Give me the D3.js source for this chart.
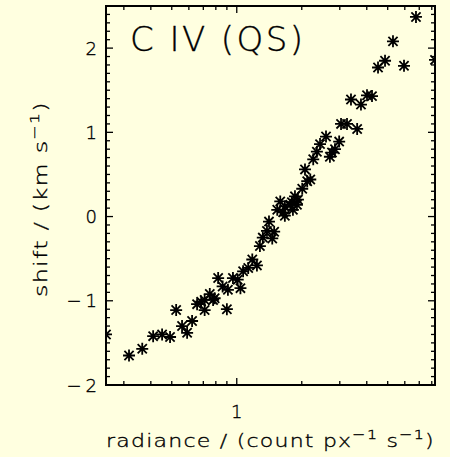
<!DOCTYPE html>
<html>
<head>
<meta charset="utf-8">
<script src="https://cdn.jsdelivr.net/npm/d3@7"></script>
<style>
  html, body { margin: 0; padding: 0; background: #ffffe0; }
  svg { display: block; }
  text { font-family: "DejaVu Sans", sans-serif; font-weight: 200; fill: #000; stroke: #000; stroke-width: 0.35; }
</style>
</head>
<body>
<svg id="chart" width="450" height="457"></svg>
<script>
// radiance (count px^-1 s^-1)
const radiance = [6.76, 5.29, 4.86, 4.51, 5.95, 8.28, 3.38, 3.76, 4.01, 4.23,
  3.04, 3.24, 3.61, 2.59, 2.98, 2.43, 2.35, 2.76, 2.85, 2.70,
  2.26, 2.07, 2.19, 2.12, 2.01, 1.86, 1.80, 1.92, 1.90, 1.59,
  1.67, 1.54, 1.64, 1.67, 1.82, 1.77, 1.41, 1.38, 1.49, 1.32,
  1.28, 1.46, 1.18, 1.24, 1.13, 1.07, 1.01, 0.96, 0.82, 0.86,
  0.91, 1.04, 0.75, 0.79, 0.71, 0.655, 0.90, 0.684, 0.777, 0.71,
  0.621, 0.524, 0.558, 0.589, 0.491, 0.451, 0.41, 0.365, 0.317, 0.248];
// Doppler shift (km s^-1)
const shift = [2.37, 2.08, 1.85, 1.77, 1.79, 1.86, 1.39, 1.33, 1.44, 1.43,
  1.10, 1.10, 1.04, 0.95, 0.89, 0.86, 0.77, 0.76, 0.80, 0.71,
  0.68, 0.56, 0.44, 0.42, 0.33, 0.24, 0.17, 0.20, 0.14, 0.18,
  0.12, 0.08, 0.05, 0.01, 0.08, 0.14, -0.06, -0.17, -0.18, -0.25,
  -0.35, -0.26, -0.51, -0.58, -0.61, -0.65, -0.75, -0.73, -0.73, -0.83,
  -0.87, -0.85, -0.92, -0.97, -0.99, -1.04, -1.10, -1.01, -0.99, -1.11,
  -1.24, -1.11, -1.30, -1.38, -1.43, -1.40, -1.42, -1.57, -1.65, -1.40];

const xMajorTicks = [1];
const xMinorTicks = [0.3, 0.4, 0.5, 0.6, 0.7, 0.8, 0.9, 2, 3, 4, 5, 6, 7, 8];
const yMajorTicks = [-2, -1, 0, 1, 2];
const yDomain = [-2, 2.5];
const title = "C IV (QS)";

const pL = 106, pR = 435, pT = 6, pB = 385;
const svg = d3.select("#chart");

const x = d3.scaleLog().domain(d3.extent(radiance)).range([pL, pR]);
const y = d3.scaleLinear().domain(yDomain).range([pB, pT]);

const yMinorTicks = d3.range(-20, 26).map(v => v / 10).filter(v => !yMajorTicks.includes(v));

const axisColor = "#000";
const g = svg.append("g");

// frame
g.append("rect").attr("x", pL).attr("y", pT)
  .attr("width", pR - pL).attr("height", pB - pT)
  .attr("fill", "none").attr("stroke", axisColor).attr("stroke-width", 2);

// ticks (inward, on all four sides)
function hTick(v, len) {
  g.append("line").attr("x1", pL).attr("x2", pL + len).attr("y1", y(v)).attr("y2", y(v))
    .attr("stroke", axisColor).attr("stroke-width", 1.3);
  g.append("line").attr("x1", pR).attr("x2", pR - len).attr("y1", y(v)).attr("y2", y(v))
    .attr("stroke", axisColor).attr("stroke-width", 1.3);
}
function vTick(v, len) {
  g.append("line").attr("x1", x(v)).attr("x2", x(v)).attr("y1", pB).attr("y2", pB - len)
    .attr("stroke", axisColor).attr("stroke-width", 1.3);
  g.append("line").attr("x1", x(v)).attr("x2", x(v)).attr("y1", pT).attr("y2", pT + len)
    .attr("stroke", axisColor).attr("stroke-width", 1.3);
}
yMajorTicks.forEach(v => hTick(v, 7));
yMinorTicks.forEach(v => hTick(v, 4));
xMajorTicks.forEach(v => vTick(v, 7));
xMinorTicks.forEach(v => vTick(v, 4));

// tick labels
const fmt = v => (v < 0 ? "\u2212" + Math.abs(v) : String(v));
g.selectAll(".ylab").data(yMajorTicks).enter().append("text")
  .attr("x", 97).attr("y", d => y(d)).attr("dy", "0.37em")
  .attr("text-anchor", "end").attr("font-size", 18)
  .attr("letter-spacing", d => d < 0 ? 4 : 0)
  .attr("dx", d => d < 0 ? 4 : 0)
  .text(fmt);
g.selectAll(".xlab").data(xMajorTicks).enter().append("text")
  .attr("x", d => x(d)).attr("y", 418)
  .attr("text-anchor", "middle").attr("font-size", 18).text(d => String(d));

// helper: stretch a text horizontally (in its own frame) to a target width
function stretch(sel, target, baseTransform) {
  const w = sel.node().getComputedTextLength();
  const s = target / w;
  sel.attr("transform", `${baseTransform} scale(${s},1)`);
}

// axis titles
const xt = g.append("text").attr("x", 0).attr("y", 0)
  .attr("font-size", 18).attr("letter-spacing", 1);
xt.append("tspan").text("radiance / (count px");
xt.append("tspan").attr("dy", -8).attr("font-size", 13).text("\u22121");
xt.append("tspan").attr("dy", 8).text(" s");
xt.append("tspan").attr("dy", -8).attr("font-size", 13).text("\u22121");
xt.append("tspan").attr("dy", 8).text(")");
stretch(xt, pR - pL, `translate(${pL},447)`);

const yt = g.append("text").attr("x", 0).attr("y", 0)
  .attr("font-size", 18).attr("letter-spacing", 1);
yt.append("tspan").text("shift / (km s");
yt.append("tspan").attr("dy", -8).attr("font-size", 13).text("\u22121");
yt.append("tspan").attr("dy", 8).text(")");
stretch(yt, 196, `translate(47,297) rotate(-90)`);

// plot title
g.append("text").attr("x", 130).attr("y", 51).attr("font-size", 34)
  .attr("textLength", 173).attr("lengthAdjust", "spacing").text(title);

// data: asterisks, clipped to the plot box
svg.append("clipPath").attr("id", "clip").append("rect")
  .attr("x", pL).attr("y", pT).attr("width", pR - pL).attr("height", pB - pT);

const a = 6, b = 4.6;
const star = `M${-a},0L${a},0M0,${-a}L0,${a}M${-b},${-b}L${b},${b}M${-b},${b}L${b},${-b}`;
const data = radiance.map((r, i) => ({ r, s: shift[i] }));
svg.append("g").attr("clip-path", "url(#clip)")
  .selectAll("path").data(data).enter().append("path")
  .attr("transform", d => `translate(${x(d.r)},${y(d.s)})`)
  .attr("d", star).attr("fill", "none").attr("stroke", "#000").attr("stroke-width", 1.8);
</script>
</body>
</html>
